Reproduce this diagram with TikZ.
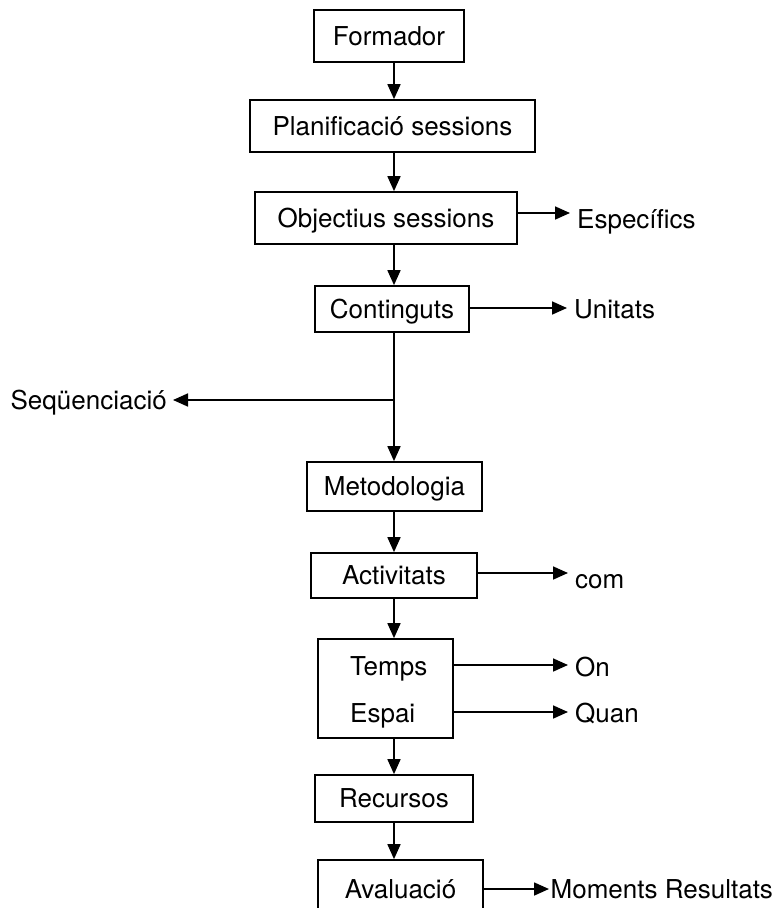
\documentclass[tikz,border=0pt]{standalone}
\usepackage{fontspec}
\setmainfont{TeX Gyre Heros}
\usetikzlibrary{arrows.meta}
\begin{document}
\begin{tikzpicture}[x=1pt,y=-1pt,
  txt/.style={font=\fontsize{26}{30}\selectfont, text height=18.6pt, text depth=0pt},
  box/.style={txt, draw, line width=1.7pt, inner sep=0pt},
  lbl/.style={txt, inner ysep=0pt, inner xsep=7pt},
  arr/.style={line width=1.7pt, -{Triangle[length=15pt,width=13pt]}},
]
\clip (0,0) rectangle (781,908);

% main chain of boxes
\node[box, minimum width=150pt, minimum height=52pt] (form) at (389,36) {Formador};
\node[box, minimum width=285pt, minimum height=52pt] (plan) at (392.5,126) {Planificació sessions};
\node[box, minimum width=262pt, minimum height=52pt] (obj)  at (386,218) {Objectius sessions};
\node[box, minimum width=154pt, minimum height=46pt] (cont) at (392,309) {Continguts};
\node[box, minimum width=175pt, minimum height=49pt] (meto) at (394.5,486.5) {Metodologia};
\node[box, minimum width=166pt, minimum height=45pt] (acti) at (394,575.5) {Activitats};
\node[box, minimum width=135pt, minimum height=99pt] (tebox) at (385.5,688.5) {};
\node[txt, anchor=west, inner sep=0pt] (temps) at (350,666.5) {Temps};
\node[txt, anchor=west, inner sep=0pt] (espai) at (350,713) {Espai};
\node[box, minimum width=158pt, minimum height=47pt] (recu) at (394,798.5) {Recursos};
\node[box, minimum width=165pt, minimum height=58pt] (aval) at (400.5,889) {Avaluació};

% side labels
\node[lbl, anchor=west] (espec) at (570,213) {\raisebox{-6pt}{Específics}};
\node[lbl, anchor=west] (unit)  at (567,308) {\raisebox{-1pt}{Unitats}};
\node[lbl, anchor=east, inner xsep=6pt] (seq) at (173,400) {Seqüenciació};
\node[lbl, anchor=west] (com)   at (568,573) {\raisebox{-6pt}{com}};
\node[lbl, anchor=west] (on)    at (568,665) {\raisebox{-2pt}{On}};
\node[lbl, anchor=west] (quan)  at (568,712) {\raisebox{-1pt}{Quan}};
\node[lbl, anchor=west, inner xsep=1.5pt] (mom) at (549,889) {Moments Resultats};

% vertical flow
\coordinate (spine) at (394,0);
\coordinate (br) at (394,400);
\draw[arr] (form.south -| spine) -- (plan.north -| spine);
\draw[arr] (plan.south -| spine) -- (obj.north -| spine);
\draw[arr] (obj.south -| spine) -- (cont.north -| spine);
\draw[arr] (cont.south -| spine) -- (meto.north -| spine);
\draw[arr] (meto.south -| spine) -- (acti.north -| spine);
\draw[arr] (acti.south -| spine) -- (tebox.north -| spine);
\draw[arr] (tebox.south -| spine) -- (recu.north -| spine);
\draw[arr] (recu.south -| spine) -- (aval.north -| spine);

% side branches
\draw[arr] (br) -- (seq.east);
\draw[arr] (obj.east |- espec.west) -- (espec.west);
\draw[arr] (cont.east |- unit.west) -- (unit.west);
\draw[arr] (acti.east |- com.west) -- (com.west);
\draw[arr] (tebox.east |- on.west) -- (on.west);
\draw[arr] (tebox.east |- quan.west) -- (quan.west);
\draw[arr] (aval.east |- mom.west) -- (mom.west);
\end{tikzpicture}
\end{document}
